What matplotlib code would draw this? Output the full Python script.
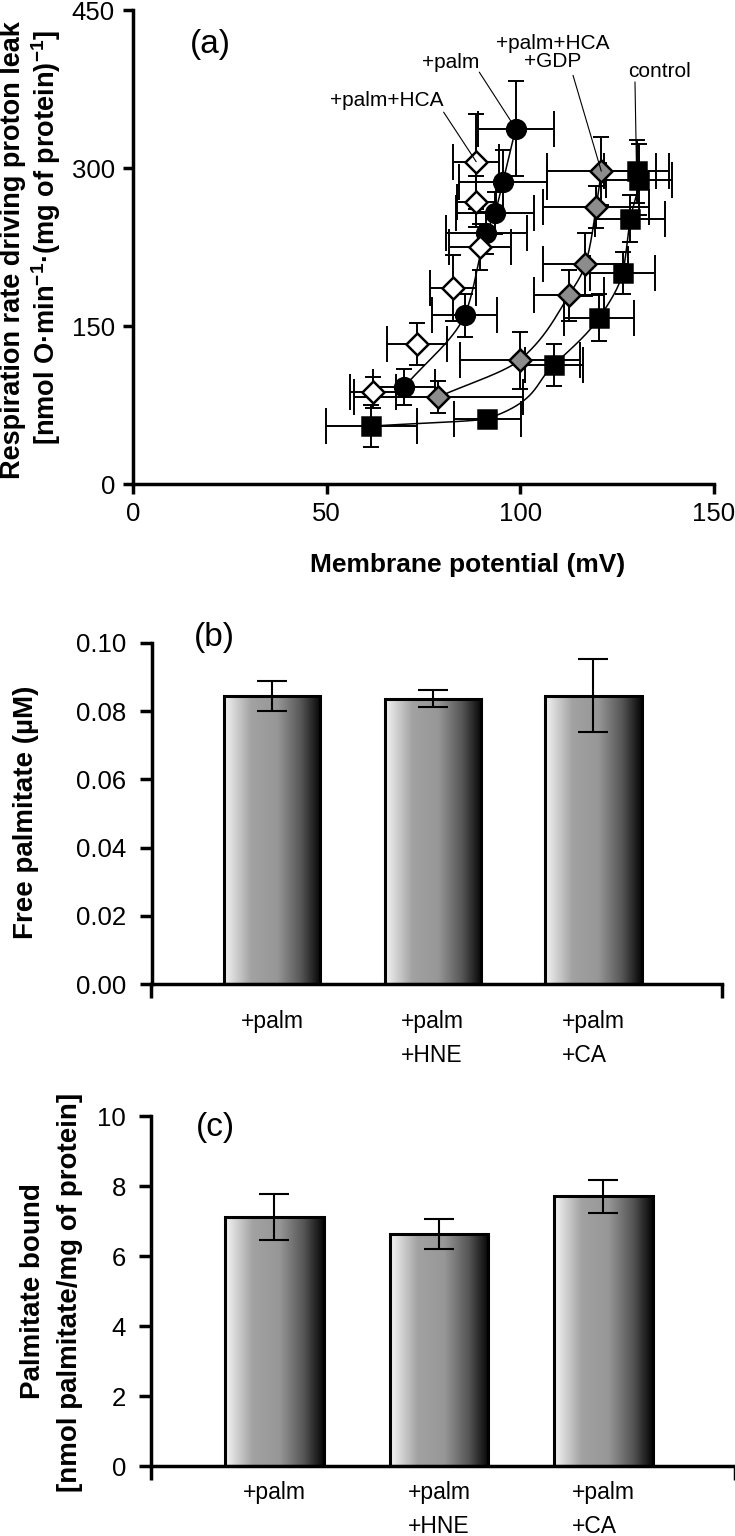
import numpy as np
import matplotlib
matplotlib.use("Agg")
import matplotlib.pyplot as plt
from matplotlib.colors import LinearSegmentedColormap

plt.rcParams['font.family'] = ['Liberation Sans', 'DejaVu Sans']
plt.rcParams['mathtext.fontset'] = 'custom'
plt.rcParams['mathtext.rm'] = 'Liberation Sans'
plt.rcParams['mathtext.bf'] = 'Liberation Sans:bold'

# ---------------- Panel (a) data ----------------
ctrl_x = [61.5, 91.5, 108.6, 120.4, 126.4, 128.4, 130.6, 130.0]
ctrl_y = [55, 62, 113, 158, 200.5, 252, 289, 297]
ctrl_xerr = [11.7, 8.7, 7.5, 9.0, 8.4, 9.0, 8.5, 8.5]
ctrl_yerr = [20, 5, 20, 22, 20, 22, 34, 30]

palm_x = [70.0, 85.6, 91.2, 93.4, 95.5, 98.8]
palm_y = [92, 160, 238, 257, 287, 337.5]
palm_xerr = [8.0, 8.3, 10.5, 10.0, 11.4, 9.8]
palm_yerr = [17, 20, 20, 20, 30, 45]

hca_x = [61.9, 73.3, 82.6, 89.5, 88.6, 88.6]
hca_y = [87, 133, 186, 225, 268, 306]
hca_xerr = [6.0, 7.8, 6.0, 8.0, 5.0, 6.0]
hca_yerr = [15, 20, 31, 22, 24, 45]

gdp_x = [78.8, 99.8, 112.5, 116.8, 119.6, 120.9]
gdp_y = [82.6, 117.6, 179, 208.5, 263, 297]
gdp_xerr = [21.8, 15.5, 9.0, 11.0, 13.7, 14.0]
gdp_yerr = [15, 27, 24, 30, 20, 32]

# ---------------- Panel (b) / (c) data ----------------
bar_labels = ['+palm', '+palm\n+HNE', '+palm\n+CA']
free_vals = [0.0845, 0.0836, 0.0845]
free_errs = [0.0045, 0.0025, 0.0107]
bound_vals = [7.12, 6.63, 7.71]
bound_errs = [0.65, 0.44, 0.47]


def pchip(xk, yk, xs):
    xk = np.asarray(xk, float); yk = np.asarray(yk, float)
    h = np.diff(xk); d = np.diff(yk) / h
    n = len(xk); m = np.zeros(n)
    for i in range(1, n - 1):
        if d[i - 1] * d[i] > 0:
            w1 = 2 * h[i] + h[i - 1]; w2 = h[i] + 2 * h[i - 1]
            m[i] = (w1 + w2) / (w1 / d[i - 1] + w2 / d[i])
    m[0] = d[0]; m[-1] = d[-1]
    out = np.empty_like(xs)
    for j, x in enumerate(xs):
        i = min(max(np.searchsorted(xk, x) - 1, 0), n - 2)
        t = (x - xk[i]) / h[i]
        h00 = 2 * t**3 - 3 * t**2 + 1; h10 = t**3 - 2 * t**2 + t
        h01 = -2 * t**3 + 3 * t**2; h11 = t**3 - t**2
        out[j] = h00 * yk[i] + h10 * h[i] * m[i] + h01 * yk[i + 1] + h11 * h[i] * m[i + 1]
    return out


def smooth_curve(xv, yv):
    order = np.argsort(yv)
    ys = np.asarray(yv, float)[order]; xs = np.asarray(xv, float)[order]
    yy = np.linspace(ys[0], ys[-1], 300)
    return pchip(ys, xs, yy), yy


fig = plt.figure(figsize=(7.35, 15.36), dpi=100)

# ================= Panel (a) =================
ax = fig.add_axes([133/735, 1-484/1536, 581/735, 474/1536])
for xv, yv in [(ctrl_x, ctrl_y), (palm_x, palm_y), (gdp_x, gdp_y)]:
    cx, cy = smooth_curve(xv, yv)
    ax.plot(cx, cy, color='black', lw=1.1, zorder=1)

series = [
    (ctrl_x, ctrl_y, ctrl_xerr, ctrl_yerr, 's', 'black', 13),
    (gdp_x, gdp_y, gdp_xerr, gdp_yerr, 'D', '#8c8c8c', 11.5),
    (palm_x, palm_y, palm_xerr, palm_yerr, 'o', 'black', 13.5),
    (hca_x, hca_y, hca_xerr, hca_yerr, 'D', 'white', 11.5),
]
for xv, yv, xe, ye, mk, fc, ms in series:
    ax.errorbar(xv, yv, xerr=xe, fmt='none', ecolor='black', elinewidth=1.4,
                capsize=13, capthick=1.4, zorder=2)
    ax.errorbar(xv, yv, yerr=ye, fmt='none', ecolor='black', elinewidth=1.4,
                capsize=6, capthick=1.4, zorder=2)
for xv, yv, xe, ye, mk, fc, ms in series:
    ax.plot(xv, yv, linestyle='none', marker=mk, markersize=ms,
            markerfacecolor=fc, markeredgecolor='black', markeredgewidth=1.8, zorder=3)

ax.set_xlim(0, 150)
ax.set_ylim(0, 450)
ax.set_xticks([0, 50, 100, 150])
ax.set_yticks([0, 150, 300, 450])
for s in ['top', 'right']:
    ax.spines[s].set_visible(False)
for s in ['left', 'bottom']:
    ax.spines[s].set_linewidth(2.5)
ax.tick_params(direction='out', length=7, width=2.5, labelsize=18.5, pad=6)
for sp in ax.spines.values():
    sp.set_clip_on(False)

ann_kw = dict(arrowprops=dict(arrowstyle='-', lw=0.8, color='black', shrinkA=0, shrinkB=0))
ax.annotate('', xy=(hca_x[-1], hca_y[-1]), xytext=(80.2, 353), zorder=5, **ann_kw)
ax.annotate('', xy=(palm_x[-1], palm_y[-1]), xytext=(89.4, 391), zorder=5, **ann_kw)
ax.annotate('', xy=(gdp_x[-1], gdp_y[-1]), xytext=(113.6, 388), zorder=5, **ann_kw)
ax.annotate('', xy=(ctrl_x[-1], ctrl_y[-1]), xytext=(129.6, 381.7), zorder=5, **ann_kw)
ax.text(65.5, 364, '+palm+HCA', ha='center', va='center', fontsize=15)
ax.text(82, 400, '+palm', ha='center', va='center', fontsize=15)
ax.text(108.3, 409.5, '+palm+HCA\n+GDP', ha='center', va='center', fontsize=15, linespacing=0.95)
ax.text(136, 392, 'control', ha='center', va='center', fontsize=15)
ax.text(20, 417, '(a)', ha='center', va='center', fontsize=24)

fig.text(468/735, 1-565/1536, 'Membrane potential (mV)', ha='center', va='center',
         fontsize=19, fontweight='bold')
fig.text(13/735, 1-250/1536, 'Respiration rate driving proton leak', rotation=90,
         ha='center', va='center', fontsize=19.5, fontweight='bold')
fig.text(46/735, 1-238/1536,
         r'[nmol O·min$^{\mathbf{-1}}$·(mg of protein)$^{\mathbf{-1}}$]', rotation=90,
         ha='center', va='center', fontsize=19.5, fontweight='bold')

# ================= Bar panels =================
cmap = LinearSegmentedColormap.from_list(
    'metal', [(0, '#f4f4f4'), (0.28, '#a2a2a2'), (0.55, '#979797'),
              (0.8, '#555555'), (1, '#050505')])
grad = np.linspace(0, 1, 256).reshape(1, -1)


def bar_panel(ax, vals, errs, ymax, yticks, fmt, label_pad):
    xpos = np.arange(len(vals))
    bars = ax.bar(xpos, vals, 0.6, facecolor='none', edgecolor='black',
                  linewidth=2.2, zorder=3)
    for r in bars:
        x0, y0 = r.get_x(), r.get_y()
        im = ax.imshow(grad, extent=[x0, x0 + r.get_width(), y0, y0 + r.get_height()],
                       aspect='auto', cmap=cmap, zorder=2, interpolation='bilinear')
        im.set_clip_path(r)
    ax.errorbar(xpos, vals, yerr=errs, fmt='none', ecolor='black', elinewidth=1.5,
                capsize=11, capthick=1.5, zorder=4)
    ax.set_xlim(-0.75, 2.8)
    ax.set_ylim(0, ymax)
    ax.set_yticks(yticks)
    ax.set_yticklabels([fmt.format(v) for v in yticks])
    ax.set_xticks(xpos)
    ax.set_xticklabels(bar_labels, linespacing=1.6, multialignment='left')
    ax.set_xticks([-0.75, 2.8], minor=True)
    for s in ['top', 'right']:
        ax.spines[s].set_visible(False)
    for s in ['left', 'bottom']:
        ax.spines[s].set_linewidth(2.5)
        ax.spines[s].set_clip_on(False)
    ax.tick_params(axis='y', direction='out', length=9, width=2.5, labelsize=18.5, pad=9)
    ax.tick_params(axis='x', which='major', length=0, labelsize=16.5, pad=label_pad)
    ax.tick_params(axis='x', which='minor', direction='out', length=10, width=2.5)


axb = fig.add_axes([151.5/735, 1-984/1536, 570.5/735, 341/1536])
bar_panel(axb, free_vals, free_errs, 0.10, [0, 0.02, 0.04, 0.06, 0.08, 0.10], '{:.2f}', 19)
axb.text(0.11, 1.015, '(b)', transform=axb.transAxes, ha='center', va='center', fontsize=24)
fig.text(26/735, 1-812/1536, 'Free palmitate (µM)', rotation=90, ha='center', va='center',
         fontsize=20, fontweight='bold')

axc = fig.add_axes([151/735, 1-1466/1536, 584/735, 350/1536])
bar_panel(axc, bound_vals, bound_errs, 10, [0, 2, 4, 6, 8, 10], '{:g}', 11)
axc.text(0.11, 0.966, '(c)', transform=axc.transAxes, ha='center', va='center', fontsize=24)
fig.text(33/735, 1-1291/1536, 'Palmitate bound', rotation=90, ha='center', va='center',
         fontsize=20, fontweight='bold')
fig.text(70/735, 1-1292/1536, '[nmol palmitate/mg of protein]', rotation=90, ha='center',
         va='center', fontsize=20, fontweight='bold')

fig.savefig('out.png', dpi=100)
